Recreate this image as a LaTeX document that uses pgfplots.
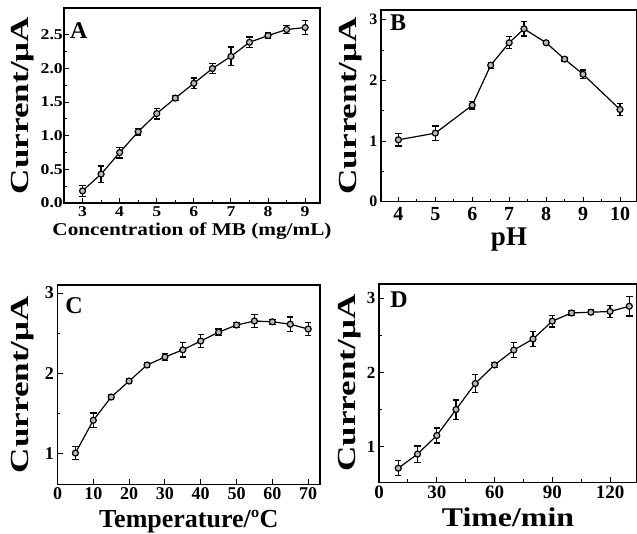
\documentclass[border=0pt]{standalone}
\usepackage{fontspec}
\setmainfont{Liberation Serif}
\newfontfamily\ylabfont[FakeStretch=1.35]{Liberation Serif}
\newfontfamily\widefont[FakeStretch=1.18]{Liberation Serif}
\usepackage{pgfplots}
\pgfplotsset{compat=1.18}

\pgfplotsset{
  panel/.style={
    scale only axis, anchor=south west,
    axis line style={line width=1.5pt},
    every tick/.style={line width=1pt, black},
    major tick length=5pt, minor tick length=3pt,
    tick pos=left, tick align=inside,
    minor x tick num=1, minor y tick num=1,
    /pgf/number format/assume math mode=true,
    ylabel={Current/μA},
    ylabel style={font=\fontsize{26}{26}\ylabfont\bfseries, anchor=center},
  },
  curve/.style={black, line width=1.2pt, mark=*, mark size=3pt,
    mark options={fill=gray!55, draw=black, line width=1.2pt},
    error bars/.cd, y dir=both, y explicit,
    error bar style={line width=1.3pt, black},
    error mark options={rotate=90, mark size=3.2pt, line width=1.3pt, black}},
}
\tikzset{letter/.style={font=\fontsize{24}{24}\bfseries, anchor=north west, inner sep=0pt}}

\begin{document}
\begin{tikzpicture}
\useasboundingbox (0pt,0pt) rectangle (637pt,533pt);

% A
\begin{axis}[panel, at={(64pt,330pt)}, width=256pt, height=195pt,
  xmin=2.5, xmax=9.4, ymin=0, ymax=2.9,
  xtick={3,4,...,9}, ytick={0,0.5,...,2.5},
  ticklabel style={font=\fontsize{15}{15}\widefont\bfseries},
  yticklabel style={inner sep=1pt, /pgf/number format/.cd, fixed, fixed zerofill, precision=1},
  xlabel={Concentration of MB (mg/mL)},
  xlabel style={font=\fontsize{18}{18}\widefont\bfseries, at={(axis description cs:0.5,-0.165)}, anchor=base},
  ylabel style={at={(axis description cs:-0.16,0.5)}},
]
\addplot+[curve] coordinates {
 (3,0.18) +- (0,0.08) (3.5,0.43) +- (0,0.12) (4,0.75) +- (0,0.08)
 (4.5,1.06) +- (0,0.05) (5,1.33) +- (0,0.08) (5.5,1.56) +- (0,0.04)
 (6,1.78) +- (0,0.08) (6.5,2.0) +- (0,0.07) (7,2.18) +- (0,0.14)
 (7.5,2.39) +- (0,0.08) (8,2.49) +- (0,0.04) (8.5,2.58) +- (0,0.06)
 (9,2.61) +- (0,0.1)};
\node[letter] at (axis description cs:0.023,0.928) {A};
\end{axis}

% B
\begin{axis}[panel, at={(381pt,331.3pt)}, width=256pt, height=191.7pt,
  xmin=3.53, xmax=10.46, ymin=0, ymax=3.16,
  xtick={4,5,...,10}, ytick={0,1,2,3},
  xticklabel style={font=\fontsize{20}{20}\bfseries, yshift=-2pt},
  yticklabel style={font=\fontsize{16}{16}\bfseries},
  xlabel={pH},
  xlabel style={font=\fontsize{27}{27}\bfseries, at={(axis description cs:0.5,-0.228)}, anchor=base},
  ylabel style={at={(axis description cs:-0.117,0.5)}},
]
\addplot+[curve] coordinates {
 (4,1.02) +- (0,0.1) (5,1.13) +- (0,0.12) (6,1.59) +- (0,0.06)
 (6.5,2.25) +- (0,0.05) (7,2.62) +- (0,0.1) (7.4,2.85) +- (0,0.12)
 (8,2.62) +- (0,0.03) (8.5,2.35) +- (0,0.03) (9,2.1) +- (0,0.07)
 (10,1.52) +- (0,0.1)};
\node[letter] at (axis description cs:0.035,0.974) {B};
\end{axis}

% C
\begin{axis}[panel, at={(57.5pt,48.7pt)}, width=262.5pt, height=199.3pt,
  xmin=0, xmax=73.3, ymin=0.61, ymax=3.1,
  xtick={0,10,...,70}, ytick={1,2,3}, minor x tick num=0,
  ticklabel style={font=\fontsize{18}{18}\bfseries},
  xlabel={Temperature/ºC},
  xlabel style={font=\fontsize{26}{26}\bfseries, at={(axis description cs:0.5,-0.216)}, anchor=base},
  ylabel style={at={(axis description cs:-0.131,0.5)}},
]
\addplot+[curve] coordinates {
 (5,1.0) +- (0,0.08) (10,1.41) +- (0,0.09) (15,1.70) +- (0,0.03)
 (20,1.9) +- (0,0.03) (25,2.1) +- (0,0.03) (30,2.2) +- (0,0.04)
 (35,2.29) +- (0,0.09) (40,2.4) +- (0,0.08) (45,2.51) +- (0,0.04)
 (50,2.6) +- (0,0.03) (55,2.65) +- (0,0.08) (60,2.64) +- (0,0.03)
 (65,2.61) +- (0,0.09) (70,2.55) +- (0,0.08)};
\node[letter] at (axis description cs:0.029,0.94) {C};
\end{axis}

% D
\begin{axis}[panel, at={(379pt,50.7pt)}, width=258pt, height=198.3pt,
  xmin=0, xmax=134, ymin=0.52, ymax=3.19,
  xtick={0,30,...,120}, ytick={1,2,3},
  xticklabel style={font=\fontsize{19}{19}\bfseries},
  yticklabel style={font=\fontsize{17}{17}\bfseries},
  xlabel={Time/min},
  xlabel style={font=\fontsize{27}{27}\widefont\bfseries, at={(axis description cs:0.5,-0.225)}, anchor=base},
  ylabel style={at={(axis description cs:-0.112,0.5)}},
]
\addplot+[curve] coordinates {
 (10,0.71) +- (0,0.1) (20,0.9) +- (0,0.11) (30,1.15) +- (0,0.1)
 (40,1.5) +- (0,0.13) (50,1.85) +- (0,0.12) (60,2.1) +- (0,0.03)
 (70,2.3) +- (0,0.1) (80,2.45) +- (0,0.1) (90,2.69) +- (0,0.08)
 (100,2.8) +- (0,0.03) (110,2.81) +- (0,0.03) (120,2.82) +- (0,0.08)
 (130,2.89) +- (0,0.13)};
\node[letter] at (axis description cs:0.043,0.96) {D};
\end{axis}
\end{tikzpicture}
\end{document}
